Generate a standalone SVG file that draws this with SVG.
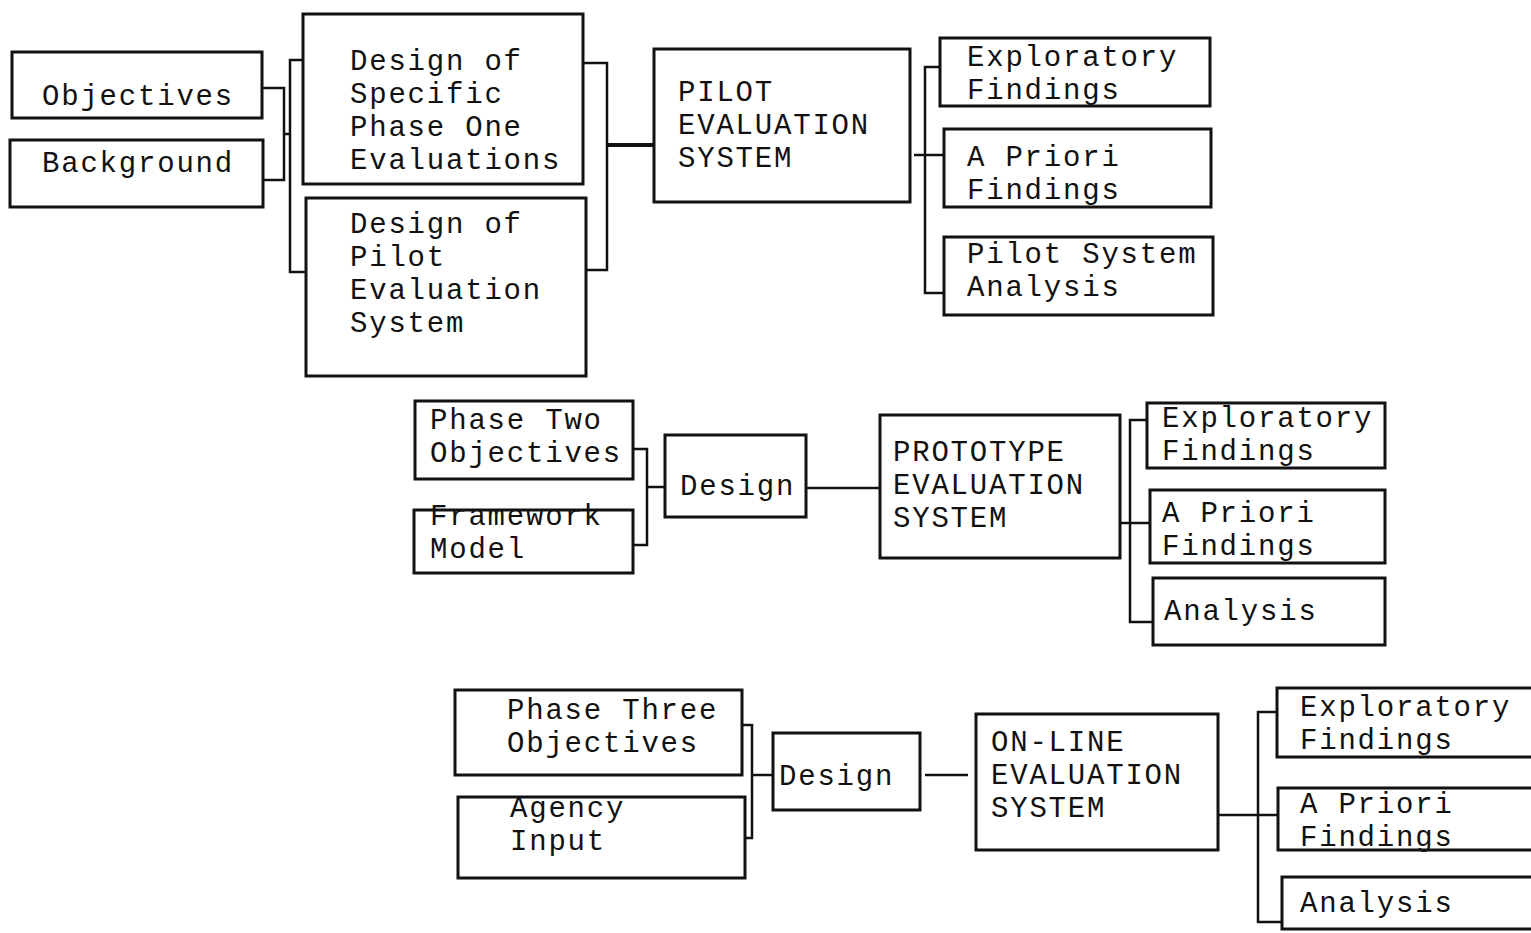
<svg xmlns="http://www.w3.org/2000/svg" width="1531" height="933" viewBox="0 0 1531 933">
  <style>
    .box { fill: none; stroke: #111; stroke-width: 3; stroke-linejoin: miter; }
    .wire { fill: none; stroke: #111; stroke-width: 2.5; }
    .heavy { stroke-width: 4; }
    .t { font-family: "Liberation Mono", "DejaVu Sans Mono", monospace; font-size: 29px; letter-spacing: 1.8px; fill: #111; }
  </style>
  <rect width="1531" height="933" fill="#fff"/>

  <!-- connectors -->
  <g id="connectors">
    <!-- phase one inputs -->
    <polyline class="wire" points="262,88 284,88 284,180 263,180"/>
    <line class="wire" x1="284" y1="134" x2="290" y2="134"/>
    <polyline class="wire" points="303,60 290,60 290,272 306,272"/>
    <polyline class="wire" points="583,63 607,63 607,270 586,270"/>
    <line class="wire heavy" x1="607" y1="145" x2="654" y2="145"/>
    <line class="wire" x1="914" y1="155" x2="944" y2="155"/>
    <polyline class="wire" points="940,67 925,67 925,293 944,293"/>
    <!-- phase two -->
    <polyline class="wire" points="633,449 647,449 647,545 633,545"/>
    <line class="wire" x1="647" y1="487" x2="665" y2="487"/>
    <line class="wire" x1="806" y1="488" x2="880" y2="488"/>
    <line class="wire" x1="1120" y1="523" x2="1150" y2="523"/>
    <polyline class="wire" points="1147,420 1130,420 1130,622 1153,622"/>
    <!-- phase three -->
    <polyline class="wire" points="742,725 752,725 752,838 745,838"/>
    <line class="wire" x1="752" y1="775" x2="773" y2="775"/>
    <line class="wire" x1="925" y1="775" x2="968" y2="775"/>
    <line class="wire" x1="1218" y1="815" x2="1278" y2="815"/>
    <polyline class="wire" points="1277,712 1258,712 1258,922 1282,922"/>
  </g>

  <!-- phase one -->
  <g id="objectives">
    <rect class="box" x="12" y="52" width="250" height="66"/>
    <text class="t" x="42" y="105">Objectives</text>
  </g>
  <g id="background">
    <rect class="box" x="10" y="140" width="253" height="67"/>
    <text class="t" x="42" y="172">Background</text>
  </g>
  <g id="design-specific">
    <rect class="box" x="303" y="14" width="280" height="170"/>
    <text class="t" x="350" y="70">Design of</text>
    <text class="t" x="350" y="103">Specific</text>
    <text class="t" x="350" y="136">Phase One</text>
    <text class="t" x="350" y="169">Evaluations</text>
  </g>
  <g id="design-pilot">
    <rect class="box" x="306" y="198" width="280" height="178"/>
    <text class="t" x="350" y="233">Design of</text>
    <text class="t" x="350" y="266">Pilot</text>
    <text class="t" x="350" y="299">Evaluation</text>
    <text class="t" x="350" y="332">System</text>
  </g>
  <g id="pilot-system">
    <rect class="box" x="654" y="49" width="256" height="153"/>
    <text class="t" x="678" y="101">PILOT</text>
    <text class="t" x="678" y="134">EVALUATION</text>
    <text class="t" x="678" y="167">SYSTEM</text>
  </g>
  <g id="pilot-exploratory">
    <rect class="box" x="940" y="38" width="270" height="68"/>
    <text class="t" x="967" y="66">Exploratory</text>
    <text class="t" x="967" y="99">Findings</text>
  </g>
  <g id="pilot-apriori">
    <rect class="box" x="944" y="129" width="267" height="78"/>
    <text class="t" x="967" y="166">A Priori</text>
    <text class="t" x="967" y="199">Findings</text>
  </g>
  <g id="pilot-analysis">
    <rect class="box" x="944" y="237" width="269" height="78"/>
    <text class="t" x="967" y="263">Pilot System</text>
    <text class="t" x="967" y="296">Analysis</text>
  </g>

  <!-- phase two -->
  <g id="phase-two-objectives">
    <rect class="box" x="415" y="401" width="218" height="78"/>
    <text class="t" x="430" y="429">Phase Two</text>
    <text class="t" x="430" y="462">Objectives</text>
  </g>
  <g id="framework-model">
    <rect class="box" x="414" y="510" width="219" height="63"/>
    <text class="t" x="430" y="525">Framework</text>
    <text class="t" x="430" y="558">Model</text>
  </g>
  <g id="design-two">
    <rect class="box" x="665" y="435" width="141" height="82"/>
    <text class="t" x="680" y="495">Design</text>
  </g>
  <g id="prototype-system">
    <rect class="box" x="880" y="415" width="240" height="143"/>
    <text class="t" x="893" y="461">PROTOTYPE</text>
    <text class="t" x="893" y="494">EVALUATION</text>
    <text class="t" x="893" y="527">SYSTEM</text>
  </g>
  <g id="prototype-exploratory">
    <rect class="box" x="1147" y="403" width="238" height="65"/>
    <text class="t" x="1162" y="427">Exploratory</text>
    <text class="t" x="1162" y="460">Findings</text>
  </g>
  <g id="prototype-apriori">
    <rect class="box" x="1150" y="490" width="235" height="73"/>
    <text class="t" x="1162" y="522">A Priori</text>
    <text class="t" x="1162" y="555">Findings</text>
  </g>
  <g id="prototype-analysis">
    <rect class="box" x="1153" y="578" width="232" height="67"/>
    <text class="t" x="1164" y="620">Analysis</text>
  </g>

  <!-- phase three -->
  <g id="phase-three-objectives">
    <rect class="box" x="455" y="690" width="287" height="85"/>
    <text class="t" x="507" y="719">Phase Three</text>
    <text class="t" x="507" y="752">Objectives</text>
  </g>
  <g id="agency-input">
    <rect class="box" x="458" y="797" width="287" height="81"/>
    <text class="t" x="510" y="817">Agency</text>
    <text class="t" x="510" y="850">Input</text>
  </g>
  <g id="design-three">
    <rect class="box" x="773" y="733" width="147" height="77"/>
    <text class="t" x="779" y="785">Design</text>
  </g>
  <g id="online-system">
    <rect class="box" x="976" y="714" width="242" height="136"/>
    <text class="t" x="991" y="751">ON-LINE</text>
    <text class="t" x="991" y="784">EVALUATION</text>
    <text class="t" x="991" y="817">SYSTEM</text>
  </g>
  <g id="online-exploratory">
    <rect class="box" x="1277" y="688" width="260" height="69"/>
    <text class="t" x="1300" y="716">Exploratory</text>
    <text class="t" x="1300" y="749">Findings</text>
  </g>
  <g id="online-apriori">
    <rect class="box" x="1278" y="788" width="260" height="62"/>
    <text class="t" x="1300" y="813">A Priori</text>
    <text class="t" x="1300" y="846">Findings</text>
  </g>
  <g id="online-analysis">
    <rect class="box" x="1282" y="877" width="260" height="52"/>
    <text class="t" x="1300" y="912">Analysis</text>
  </g>
</svg>
